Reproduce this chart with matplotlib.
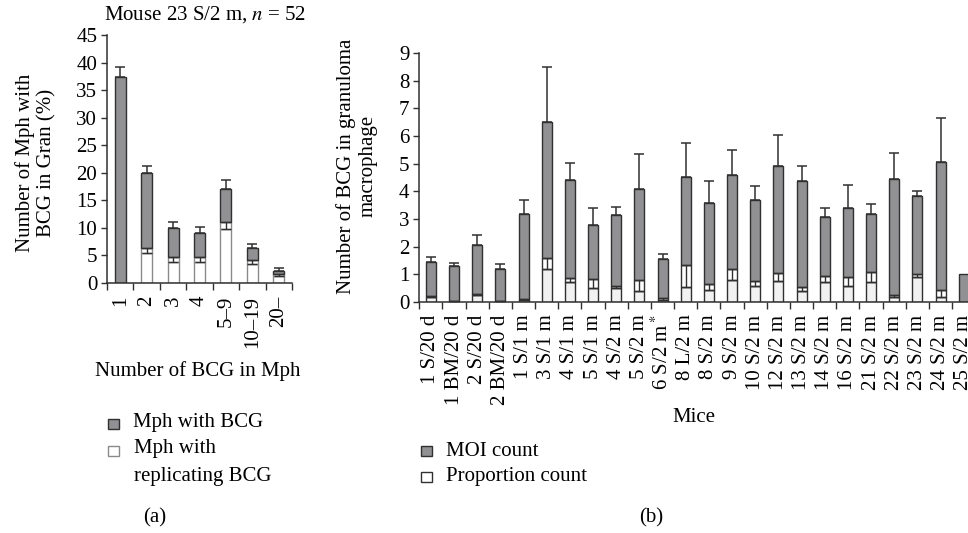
import numpy as np
import matplotlib.pyplot as plt
from matplotlib.patches import Rectangle

plt.rcParams['font.family'] = ['Liberation Serif', 'DejaVu Serif']
plt.rcParams['mathtext.fontset'] = 'stix'
plt.rcParams['font.size'] = 15

# (a) Mouse 23 S/2 m
bins_a = ["1", "2", "3", "4", "5–9", "10–19", "20–"]
mph_bcg = [37.3, 19.9, 10.0, 9.05, 17.1, 6.35, 2.2]
mph_bcg_err = [1.9, 1.4, 1.0, 1.05, 1.6, 0.75, 0.5]
mph_repl = [0.0, 5.4, 3.9, 3.9, 9.8, 3.5, 1.2]
mph_repl_err = [0.0, 0.9, 0.75, 0.75, 1.25, 0.7, 0.5]

# (b) all mice
mice = ["1 S/20 d", "1 BM/20 d", "2 S/20 d", "2 BM/20 d", "1 S/1 m", "3 S/1 m",
        "4 S/1 m", "5 S/1 m", "4 S/2 m", "5 S/2 m", "6 S/2 m$^*$", "8 L/2 m",
        "8 S/2 m", "9 S/2 m", "10 S/2 m", "12 S/2 m", "13 S/2 m", "14 S/2 m",
        "16 S/2 m", "21 S/2 m", "22 S/2 m", "23 S/2 m", "24 S/2 m", "25 S/2 m"]
moi = [1.44, 1.30, 2.06, 1.20, 3.18, 6.49, 4.42, 2.78, 3.16, 4.09, 1.54, 4.53,
       3.58, 4.60, 3.69, 4.93, 4.37, 3.06, 3.39, 3.17, 4.45, 3.83, 5.07, 1.0]
moi_err = [0.17, 0.12, 0.37, 0.16, 0.51, 2.01, 0.59, 0.61, 0.27, 1.25, 0.18, 1.20,
           0.81, 0.90, 0.50, 1.11, 0.53, 0.33, 0.83, 0.36, 0.95, 0.20, 1.58, 0.0]
prop = [0.18, 0.03, 0.25, 0.02, 0.09, 1.20, 0.74, 0.51, 0.50, 0.41, 0.07, 0.53,
        0.44, 0.80, 0.59, 0.75, 0.41, 0.72, 0.59, 0.74, 0.18, 0.92, 0.17, 0.0]
prop_err = [0.04, 0.02, 0.04, 0.01, 0.03, 0.38, 0.13, 0.33, 0.09, 0.39, 0.06, 0.80,
            0.22, 0.41, 0.16, 0.29, 0.14, 0.23, 0.32, 0.34, 0.06, 0.10, 0.28, 0.0]

W, H = 968, 533
GRAY = '#919193'
DARK = '#303030'


def fx(x):
    return x / W


def fy(y):
    return 1 - y / H


def stacked(ax, total, err, low, low_err, width, light, low_edge):
    x = np.arange(len(total))
    total, err = np.asarray(total), np.asarray(err)
    low, low_err = np.asarray(low), np.asarray(low_err)
    top_low = low + low_err
    ax.bar(x, low, width, color=light, edgecolor=low_edge, lw=1.0, zorder=2)
    ax.bar(x, low_err, width, bottom=low, color='white', edgecolor=low_edge, lw=1.0, zorder=2)
    ax.bar(x, total - top_low, width, bottom=top_low, color=GRAY, edgecolor=DARK, lw=1.0, zorder=2)
    m = err > 0
    ax.errorbar(x[m], total[m], yerr=[np.zeros(m.sum()), err[m]], fmt='none',
                ecolor=DARK, elinewidth=1.1, capsize=3.6, capthick=1.1, zorder=3)
    m = low_err > 0
    ax.errorbar(x[m], low[m], yerr=[np.zeros(m.sum()), low_err[m]], fmt='none',
                ecolor=DARK, elinewidth=1.0, capsize=3.6, capthick=1.0, zorder=3)
    return x


def style(ax, x, labels):
    for s in ['top', 'right']:
        ax.spines[s].set_visible(False)
    for s in ['left', 'bottom']:
        ax.spines[s].set_color(DARK)
        ax.spines[s].set_linewidth(1.1)
    ax.set_xlim(-0.5, len(x) - 0.5)
    ax.set_xticks(x, labels, rotation=90)
    ax.set_xticks(np.arange(-0.5, len(x)), minor=True)
    ax.tick_params(axis='x', which='major', length=0, pad=9)
    ax.tick_params(axis='x', which='minor', length=5, width=1, color=DARK, direction='out')
    ax.tick_params(axis='y', length=4, width=1, color=DARK, pad=3)


fig = plt.figure(figsize=(W / 100, H / 100), dpi=100)

# panel (a)
ax1 = fig.add_axes([fx(107), fy(283), 185 / W, 248 / H])
xa = stacked(ax1, mph_bcg, mph_bcg_err, mph_repl, mph_repl_err, 0.42, 'white', '#8a8a8a')
style(ax1, xa, bins_a)
ax1.set_ylim(0, 45)
ax1.set_yticks(range(0, 46, 5))

fig.text(fx(205), fy(15), "Mouse 23 S/2 m, $n$ = 52", ha='center', va='center')
fig.text(fx(36), fy(163), "Number of Mph with\nBCG in Gran (%)", rotation=90,
         ha='center', va='center', multialignment='center', linespacing=1.15)
fig.text(fx(198), fy(371), "Number of BCG in Mph", ha='center', va='center')

# panel (b)
ax2 = fig.add_axes([fx(419.3), fy(302), 556 / W, 249 / H])
xb = stacked(ax2, moi, moi_err, prop, prop_err, 0.43, '#f1f1f1', DARK)
style(ax2, xb, mice)
ax2.set_ylim(0, 9)
ax2.set_yticks(range(0, 10))

fig.text(fx(357), fy(166), "Number of BCG in granuloma\nmacrophage", rotation=90,
         ha='center', va='center', multialignment='center', linespacing=1.15)
fig.text(fx(694), fy(417), "Mice", ha='center', va='center')

# legends
def legend_box(x, y, face, edge):
    fig.patches.append(Rectangle((fx(x), fy(y + 10)), 11 / W, 10 / H, transform=fig.transFigure,
                                 facecolor=face, edgecolor=edge, lw=1.0))

legend_box(108, 419, GRAY, DARK)
legend_box(108, 446, 'white', '#8a8a8a')
fig.text(fx(133), fy(422), "Mph with BCG", ha='left', va='center')
fig.text(fx(134), fy(449), "Mph with", ha='left', va='center')
fig.text(fx(134), fy(477), "replicating BCG", ha='left', va='center')

legend_box(421, 446, GRAY, DARK)
legend_box(421, 472, 'white', DARK)
fig.text(fx(446), fy(451), "MOI count", ha='left', va='center')
fig.text(fx(446), fy(477), "Proportion count", ha='left', va='center')

fig.text(fx(155), fy(518), "(a)", ha='center', va='center')
fig.text(fx(651), fy(518), "(b)", ha='center', va='center')

fig.savefig("out.png", dpi=100)
